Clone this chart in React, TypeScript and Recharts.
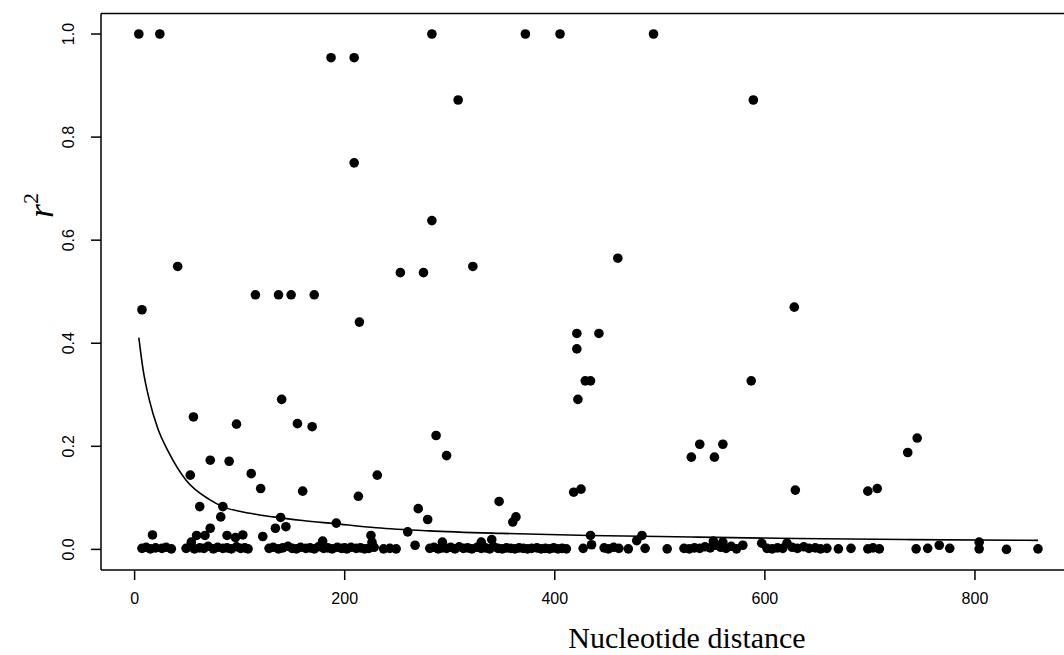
import React from 'react';
import { ComposedChart, Scatter, Line, XAxis, YAxis, ReferenceLine } from 'recharts';

// Points clearly above the baseline band
const upperDist = [4, 24, 283, 372, 405, 494, 187, 209, 308, 589, 209, 283, 41, 322, 253, 275, 460, 115, 137, 149, 171, 7, 214, 628, 421, 442, 421, 429, 434, 587, 422, 140, 56, 97, 155, 169, 287, 297, 72, 90, 53, 111, 231, 120, 160, 213, 418, 425, 629, 530, 538, 552, 560, 736, 745, 698, 707];
const upperR2 = [1.0, 1.0, 1.0, 1.0, 1.0, 1.0, 0.954, 0.954, 0.872, 0.872, 0.75, 0.638, 0.549, 0.549, 0.537, 0.537, 0.565, 0.494, 0.494, 0.494, 0.494, 0.465, 0.441, 0.47, 0.419, 0.419, 0.389, 0.327, 0.327, 0.327, 0.291, 0.291, 0.257, 0.243, 0.244, 0.238, 0.221, 0.182, 0.173, 0.171, 0.144, 0.147, 0.144, 0.118, 0.113, 0.103, 0.111, 0.117, 0.115, 0.179, 0.204, 0.179, 0.204, 0.188, 0.216, 0.113, 0.118];

// Low points just above the band
const midDist = [347, 270, 279, 360, 363, 62, 84, 82, 72, 139, 134, 144, 192, 260, 17, 59, 67, 88, 96, 103, 122, 225, 434, 483, 478, 54, 293, 330, 340, 435, 551, 560, 267, 579, 597, 621, 804, 766, 226, 179];
const midR2 = [0.093, 0.079, 0.058, 0.053, 0.063, 0.083, 0.083, 0.063, 0.041, 0.062, 0.041, 0.044, 0.051, 0.034, 0.028, 0.027, 0.027, 0.027, 0.023, 0.028, 0.025, 0.027, 0.027, 0.027, 0.017, 0.014, 0.014, 0.014, 0.019, 0.009, 0.016, 0.014, 0.008, 0.008, 0.012, 0.012, 0.014, 0.008, 0.014, 0.016];

// Baseline band (r2 close to zero)
const lowDist = [7, 11, 15, 20, 26, 30, 35, 49, 53, 57, 62, 66, 70, 75, 79, 84, 88, 92, 97, 101, 105, 108, 128, 132, 137, 141, 146, 150, 154, 158, 163, 167, 171, 175, 180, 184, 188, 193, 197, 200, 202, 206, 211, 215, 219, 223, 228, 237, 243, 249, 281, 285, 289, 293, 297, 301, 305, 309, 313, 317, 321, 326, 330, 334, 338, 342, 346, 350, 354, 358, 362, 366, 370, 374, 378, 383, 387, 391, 395, 399, 403, 407, 411, 427, 447, 451, 456, 461, 470, 486, 507, 523, 528, 533, 538, 543, 548, 553, 558, 563, 568, 573, 602, 607, 612, 617, 626, 631, 637, 642, 648, 653, 659, 670, 682, 698, 703, 709, 744, 755, 776, 804, 830, 860];
const lowR2 = [0.002, 0.004, 0.001, 0.003, 0.002, 0.004, 0.001, 0.002, 0.005, 0.001, 0.003, 0.002, 0.006, 0.001, 0.004, 0.002, 0.003, 0.001, 0.005, 0.002, 0.003, 0.001, 0.002, 0.004, 0.001, 0.003, 0.006, 0.002, 0.001, 0.004, 0.002, 0.003, 0.001, 0.005, 0.002, 0.003, 0.001, 0.004, 0.002, 0.003, 0.001, 0.004, 0.002, 0.003, 0.001, 0.002, 0.004, 0.001, 0.002, 0.001, 0.002, 0.004, 0.001, 0.003, 0.002, 0.004, 0.001, 0.005, 0.002, 0.003, 0.001, 0.004, 0.002, 0.003, 0.001, 0.005, 0.002, 0.001, 0.003, 0.002, 0.001, 0.003, 0.002, 0.001, 0.002, 0.003, 0.001, 0.002, 0.001, 0.003, 0.001, 0.002, 0.001, 0.002, 0.003, 0.001, 0.004, 0.002, 0.001, 0.002, 0.001, 0.002, 0.001, 0.003, 0.002, 0.005, 0.003, 0.008, 0.004, 0.002, 0.006, 0.001, 0.002, 0.001, 0.003, 0.002, 0.004, 0.002, 0.005, 0.002, 0.003, 0.001, 0.002, 0.001, 0.002, 0.001, 0.003, 0.001, 0.001, 0.002, 0.002, 0.001, 0.0, 0.001];

// Fitted decay curve
const curveDist = [4, 8, 14, 22, 32, 49, 71, 84, 110, 132, 160, 190, 230, 280, 350, 433, 530, 630, 740, 860];
const curveR2 = [0.411, 0.35, 0.29, 0.235, 0.19, 0.134, 0.097, 0.083, 0.07, 0.063, 0.056, 0.05, 0.042, 0.036, 0.031, 0.027, 0.024, 0.021, 0.019, 0.0175];

const xTicks = [0, 200, 400, 600, 800];
const yTicks = [0, 0.2, 0.4, 0.6, 0.8, 1.0];

const points = [
  ...upperDist.map((d, i) => ({ d, r: upperR2[i] })),
  ...midDist.map((d, i) => ({ d, r: midR2[i] })),
  ...lowDist.map((d, i) => ({ d, r: lowR2[i] })),
];
const curve = curveDist.map((d, i) => ({ d, r: curveR2[i] }));

const SANS = '"Liberation Sans", Arial, Helvetica, sans-serif';
const SERIF = '"Liberation Serif", "Times New Roman", serif';

const Dot = (props: any) => <circle cx={props.cx} cy={props.cy} r={4.8} fill="#000" />;

const YTick = (props: any) => {
  const { y, payload } = props;
  return (
    <g transform={`translate(74, ${y}) rotate(-90)`}>
      <text x={0} y={0} textAnchor="middle" fontSize={16} fontFamily={SANS} fill="#000">
        {Number(payload.value).toFixed(1)}
      </text>
    </g>
  );
};

const XTick = (props: any) => {
  const { x, payload } = props;
  return (
    <text x={x} y={604} textAnchor="middle" fontSize={16} fontFamily={SANS} fill="#000">
      {payload.value}
    </text>
  );
};

export default function App() {
  return (
    <div style={{ position: 'absolute', left: 0, top: 0, width: 1064, height: 655, overflow: 'hidden', background: '#fff' }}>
      <ComposedChart
        width={1080}
        height={655}
        data={points}
        margin={{ top: 13.4, right: 4.2, bottom: 45, left: 41 }}
      >
        <XAxis
          type="number"
          dataKey="d"
          domain={[-32, 896]}
          ticks={xTicks}
          allowDataOverflow
          height={40}
          axisLine={false}
          tickSize={10}
          tickLine={{ stroke: '#000', strokeWidth: 1.5 }}
          tick={XTick}
          interval={0}
        />
        <YAxis
          type="number"
          dataKey="r"
          domain={[-0.04, 1.04]}
          ticks={yTicks}
          allowDataOverflow
          width={60}
          axisLine={false}
          tickSize={10}
          tickLine={{ stroke: '#000', strokeWidth: 1.5 }}
          tick={YTick}
          interval={0}
        />
        <ReferenceLine y={1.04} stroke="#000" strokeWidth={1.5} ifOverflow="visible" />
        <ReferenceLine y={-0.04} stroke="#000" strokeWidth={1.5} ifOverflow="visible" />
        <ReferenceLine x={-32} stroke="#000" strokeWidth={1.5} ifOverflow="visible" />
        <Scatter data={points} dataKey="r" shape={Dot} isAnimationActive={false} />
        <Line data={curve} dataKey="r" type="monotone" stroke="#000" strokeWidth={1.6} dot={false} activeDot={false} isAnimationActive={false} />
        <text x={687} y={648} textAnchor="middle" fontSize={30} fontFamily={SERIF} fill="#000">Nucleotide distance</text>
        <g transform="translate(53, 218) rotate(-90)">
          <text x={0} y={0} fontFamily={SERIF} fill="#000">
            <tspan fontSize={36} fontStyle="italic">r</tspan>
            <tspan fontSize={22} dy={-15}>2</tspan>
          </text>
        </g>
      </ComposedChart>
    </div>
  );
}
